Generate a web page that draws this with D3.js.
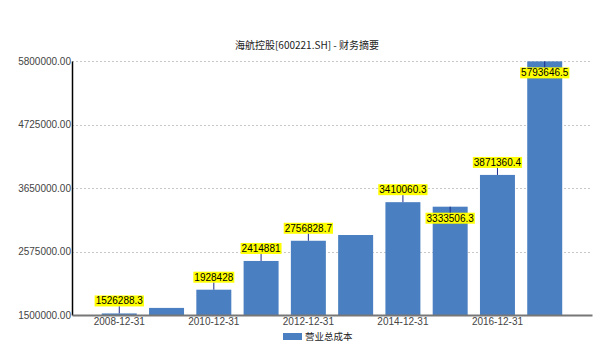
<!DOCTYPE html>
<html>
<head>
<meta charset="utf-8">
<script src="https://cdn.jsdelivr.net/npm/d3@7"></script>
<style>
  body { margin: 0; background: #fff; }
  text { font-family: "Liberation Sans", Arial, sans-serif; }
</style>
</head>
<body>
<div id="chart"></div>
<script>
const width = 607;
const height = 352;

// data
const years = ["2008-12-31", "2009-12-31", "2010-12-31", "2011-12-31", "2012-12-31",
  "2013-12-31", "2014-12-31", "2015-12-31", "2016-12-31", "2017-12-31"];
const costs = [1526288.3, 1620000, 1928428, 2414881, 2756828.7,
  2854000, 3410060.3, 3333506.3, 3871360.4, 5793646.5];
// which bars carry a value label (null = no label)
const labels = ["1526288.3", null, "1928428", "2414881", "2756828.7",
  null, "3410060.3", "3333506.3", "3871360.4", "5793646.5"];
const yTicks = [1500000, 2575000, 3650000, 4725000, 5800000];
const xTickShown = ["2008-12-31", "2010-12-31", "2012-12-31", "2014-12-31", "2016-12-31"];

const margin = {top: 61, right: 15, bottom: 37, left: 72};

const svg = d3.select("#chart")
  .append("svg")
  .attr("width", width)
  .attr("height", height);

const x = d3.scaleBand()
  .domain(years)
  .range([margin.left, width - margin.right])
  .paddingInner(0.26)
  .paddingOuter(0.63);

const y = d3.scaleLinear()
  .domain([1500000, 5800000])
  .range([height - margin.bottom, margin.top]);

// title
svg.append("text")
  .attr("x", 307)
  .attr("y", 49)
  .attr("text-anchor", "middle")
  .style("font-size", "10px")
  .style("font-family", "'Noto Sans CJK SC', sans-serif")
  .attr("fill", "#222")
  .text("海航控股[600221.SH] - 财务摘要");

// grid lines
svg.append("g")
  .selectAll("line")
  .data(yTicks.slice(1))
  .enter().append("line")
  .attr("x1", margin.left)
  .attr("x2", width - margin.right)
  .attr("y1", d => Math.round(y(d)) + 0.5)
  .attr("y2", d => Math.round(y(d)) + 0.5)
  .attr("stroke", "#c8c8c8")
  .attr("stroke-dasharray", "2,2");

// y axis
const yAxis = svg.append("g")
  .attr("transform", `translate(${margin.left},0)`)
  .call(d3.axisLeft(y).tickValues(yTicks).tickSize(0).tickPadding(1)
    .tickFormat(d => d3.format(".2f")(d)));
yAxis.select(".domain").attr("stroke", "#000").attr("stroke-width", 1.5);
yAxis.selectAll("text").style("font-size", "10px").attr("fill", "#444");

// bars
svg.append("g")
  .selectAll("rect")
  .data(years)
  .enter().append("rect")
  .attr("x", d => x(d))
  .attr("width", x.bandwidth())
  .attr("y", (d, i) => y(costs[i]))
  .attr("height", (d, i) => y(1500000) - y(costs[i]))
  .attr("fill", "#4a7fc1");

// x axis
const xAxis = svg.append("g")
  .attr("transform", `translate(0,${height - margin.bottom})`)
  .call(d3.axisBottom(x).tickValues(xTickShown).tickSize(0).tickPadding(3));
xAxis.select(".domain").attr("stroke", "#777").attr("stroke-width", 2);
xAxis.selectAll("text").style("font-size", "10px").attr("fill", "#444");

// value labels
const lab = svg.append("g");
let prevBox = null;
years.forEach((yr, i) => {
  if (!labels[i]) return;
  const cx = x(yr) + x.bandwidth() / 2;
  const top = y(costs[i]);
  const g = lab.append("g");
  const t = g.append("text")
    .attr("text-anchor", "middle")
    .style("font-size", "10px")
    .attr("fill", "#000")
    .text(labels[i]);
  const w = t.node().getComputedTextLength() + 2;
  const h = 11;
  // try above the bar, flip below on overlap or past the top
  let boxY = top - 7 - h;
  let below = boxY < margin.top;
  if (!below && prevBox) {
    const overlapX = cx - w / 2 < prevBox.x2 + 2;
    const overlapY = boxY < prevBox.y2 && boxY + h > prevBox.y1;
    if (overlapX && overlapY) below = true;
  }
  if (below) boxY = top + 6;
  g.insert("rect", "text")
    .attr("x", cx - w / 2)
    .attr("y", boxY)
    .attr("width", w)
    .attr("height", h)
    .attr("fill", "#ffff00");
  t.attr("x", cx).attr("y", boxY + h - 2);
  g.append("line")
    .attr("x1", cx).attr("x2", cx)
    .attr("y1", top)
    .attr("y2", below ? boxY : boxY + h)
    .attr("stroke", "#1a2a8a")
    .attr("stroke-width", 1);
  prevBox = {x1: cx - w / 2, x2: cx + w / 2, y1: boxY, y2: boxY + h};
});

// legend
const legend = svg.append("g");
legend.append("rect")
  .attr("x", 283).attr("y", 333)
  .attr("width", 19).attr("height", 7)
  .attr("fill", "#4a7fc1");
legend.append("text")
  .attr("x", 305).attr("y", 340)
  .style("font-size", "9.5px")
  .style("font-family", "'Noto Sans CJK SC', sans-serif")
  .attr("fill", "#222")
  .text("营业总成本");
</script>
</body>
</html>
